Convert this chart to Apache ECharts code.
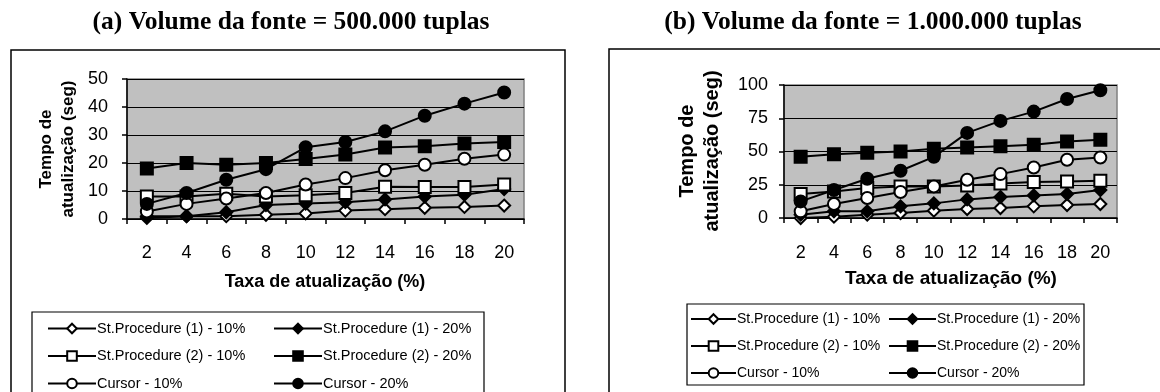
<!DOCTYPE html>
<html>
<head>
<meta charset="utf-8">
<script src="https://cdn.jsdelivr.net/npm/echarts@6/dist/echarts.min.js"></script>
<style>
html,body{margin:0;padding:0;background:#fff;}
#chart{width:1160px;height:392px;}
</style>
</head>
<body>
<div id="chart"></div>
<script>
// ---- data ----
const categories = ['2','4','6','8','10','12','14','16','18','20'];
const seriesNames = ['St.Procedure (1) - 10%','St.Procedure (1) - 20%','St.Procedure (2) - 10%','St.Procedure (2) - 20%','Cursor - 10%','Cursor - 20%'];
// (a) 500.000 tuplas
const sp1_10_a = [0.4, 1, 1, 1.5, 2, 3, 3.5, 4, 4.3, 4.8];
const sp1_20_a = [1, 1, 2.4, 5, 5.5, 6, 7, 8, 8.7, 10.7];
const sp2_10_a = [8, 8, 9, 8, 8.5, 9.3, 11.5, 11.4, 11.4, 12.3];
const sp2_20_a = [18, 20, 19.4, 20, 21.4, 23, 25.5, 26, 27, 27.5];
const cur_10_a = [2.7, 5.4, 7.3, 9.3, 12.3, 14.6, 17.4, 19.4, 21.5, 23];
const cur_20_a = [5.4, 9.3, 14, 17.8, 25.6, 27.5, 31.3, 36.9, 41.2, 45.2];
// (b) 1.000.000 tuplas
const sp1_10_b = [0, 1, 2.5, 3.75, 5.5, 6.75, 7.5, 8.75, 9.75, 10.5];
const sp1_20_b = [2.5, 5, 5, 8.75, 11, 14, 15.75, 17, 18, 21];
const sp2_10_b = [18, 20, 22.5, 23.75, 23.75, 24.5, 26, 27, 27.5, 28];
const sp2_20_b = [46, 48, 49, 50, 52, 53, 54, 55, 57.5, 58.75];
const cur_10_b = [5, 10.5, 15, 19.5, 23.75, 28.75, 33, 38, 43.75, 45.5];
const cur_20_b = [12.5, 21, 29.5, 35.5, 46, 64, 73, 80, 89.5, 96];

const titleA = '(a) Volume da fonte = 500.000 tuplas';
const titleB = '(b) Volume da fonte = 1.000.000 tuplas';
const yName = 'Tempo de\natualização (seg)';
const xName = 'Taxa de atualização (%)';

const dataA = [sp1_10_a, sp1_20_a, sp2_10_a, sp2_20_a, cur_10_a, cur_20_a];
const dataB = [sp1_10_b, sp1_20_b, sp2_10_b, sp2_20_b, cur_10_b, cur_20_b];

// ---- styles ----
const styles = [
  {symbol:'diamond', fill:'#fff', size:12},
  {symbol:'diamond', fill:'#000', size:12},
  {symbol:'rect', fill:'#fff', size:12},
  {symbol:'rect', fill:'#000', size:12},
  {symbol:'circle', fill:'#fff', size:12},
  {symbol:'circle', fill:'#000', size:12}
];
const SANS = 'Liberation Sans, Arial, sans-serif';
const SERIF = 'Liberation Serif, Times New Roman, serif';

function makeSeries(data, gi) {
  return data.map((d, i) => ({
    name: seriesNames[i],
    type: 'line',
    xAxisIndex: gi, yAxisIndex: gi,
    data: d,
    symbol: styles[i].symbol,
    symbolSize: styles[i].size,
    showAllSymbol: true,
    animation: false,
    lineStyle: {color:'#000', width: 2},
    itemStyle: {color: styles[i].fill, borderColor:'#000', borderWidth: 2},
    emphasis: {disabled: true}
  }));
}

function xAxis(gi, margin) {
  return {
    type:'category', gridIndex: gi, data: categories, boundaryGap: true,
    axisLine:{lineStyle:{color:'#000', width:1.5}},
    axisTick:{show:true, length:5, lineStyle:{color:'#000', width:1.5}},
    axisLabel:{color:'#000', fontFamily:SANS, fontSize:18, margin:margin},
    splitLine:{show:false}
  };
}
function yAxis(gi, max, interval, margin) {
  return {
    type:'value', gridIndex: gi, min:0, max:max, interval:interval,
    axisLine:{show:true, lineStyle:{color:'#000', width:1.5}},
    axisTick:{show:true, length:5, lineStyle:{color:'#000', width:1.5}},
    axisLabel:{color:'#000', fontFamily:SANS, fontSize:18, margin:margin},
    splitLine:{show:true, lineStyle:{color:'#000', width:1}}
  };
}

function legend(left, top, names, itemWidth, gap, fs) {
  return {
    orient:'vertical', left:left, top:top, height:90, padding:0, data:names,
    itemWidth:itemWidth, itemHeight:12, itemGap:gap,
    textStyle:{color:'#000', fontFamily:SANS, fontSize:fs, lineHeight:14, padding:[0,0,0,-4]},
    selectedMode:false, inactiveColor:'#000'
  };
}

const col1 = [seriesNames[0], seriesNames[2], seriesNames[4]];
const col2 = [seriesNames[1], seriesNames[3], seriesNames[5]];

const option = {
  backgroundColor:'#fff',
  animation:false,
  title:[
    {text:titleA, left:291, top:9, textAlign:'center', padding:0,
     textStyle:{fontFamily:SERIF, fontWeight:'bold', fontSize:25.5, color:'#000'}},
    {text:titleB, left:873, top:9, textAlign:'center', padding:0,
     textStyle:{fontFamily:SERIF, fontWeight:'bold', fontSize:25.5, color:'#000'}}
  ],
  grid:[
    {left:127, top:79, width:397, height:140, show:true, backgroundColor:'#c0c0c0', borderColor:'#808080', borderWidth:1.5},
    {left:784, top:85, width:333, height:133, show:true, backgroundColor:'#c0c0c0', borderColor:'#808080', borderWidth:1.5}
  ],
  xAxis:[xAxis(0, 25), xAxis(1, 26)],
  yAxis:[yAxis(0, 50, 10, 19), yAxis(1, 100, 25, 16)],
  legend:[
    legend(47, 321, col1, 48, 12.5, 14.5),
    legend(273, 321, col2, 48, 12.5, 14.5),
    legend(690, 312, col1, 45, 13, 14),
    legend(888, 312, col2, 47, 13, 14)
  ],
  series: makeSeries(dataA, 0).concat(makeSeries(dataB, 1)),
  graphic:[
    {type:'rect', shape:{x:11, y:50, width:554, height:400}, style:{fill:null, stroke:'#000', lineWidth:1.5}, z:-1},
    {type:'rect', shape:{x:609, y:49, width:600, height:400}, style:{fill:null, stroke:'#000', lineWidth:1.5}, z:-1},
    {type:'rect', shape:{x:32, y:312, width:452, height:120}, style:{fill:null, stroke:'#000', lineWidth:1.2}, z:-1},
    {type:'rect', shape:{x:687, y:304, width:397, height:81}, style:{fill:null, stroke:'#000', lineWidth:1.2}, z:-1},
    {type:'text', x:57, y:149, rotation:Math.PI/2,
     style:{text:yName, fontFamily:SANS, fontWeight:'bold', fontSize:17, lineHeight:22, fill:'#000', textAlign:'center', textVerticalAlign:'middle'}},
    {type:'text', x:700, y:151, rotation:Math.PI/2,
     style:{text:yName, fontFamily:SANS, fontWeight:'bold', fontSize:20, lineHeight:25, fill:'#000', textAlign:'center', textVerticalAlign:'middle'}},
    {type:'text', x:325, y:282,
     style:{text:xName, fontFamily:SANS, fontWeight:'bold', fontSize:18, fill:'#000', textAlign:'center', textVerticalAlign:'middle'}},
    {type:'text', x:951, y:279,
     style:{text:xName, fontFamily:SANS, fontWeight:'bold', fontSize:19, fill:'#000', textAlign:'center', textVerticalAlign:'middle'}}
  ]
};

const chart = echarts.init(document.getElementById('chart'), null, {renderer:'canvas'});
chart.setOption(option);
</script>
</body>
</html>
